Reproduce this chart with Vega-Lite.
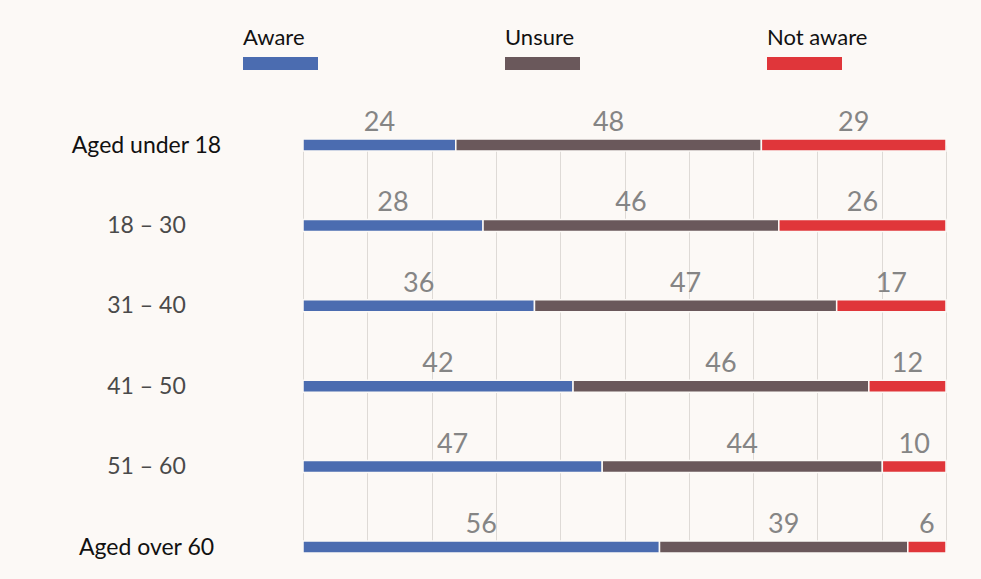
{
  "$schema": "https://vega.github.io/schema/vega-lite/v6.json",
  "background": "#fcf9f6",
  "padding": {"left": 71, "top": 26, "right": 40, "bottom": 29},
  "bounds": "flush",
  "spacing": 75,
  "config": {"view": {"stroke": null}, "font": "Lato"},
  "datasets": {
    "survey": [
      {"age": "Aged under 18", "resp": "Aware", "value": 24},
      {"age": "Aged under 18", "resp": "Unsure", "value": 48},
      {"age": "Aged under 18", "resp": "Not aware", "value": 29},
      {"age": "18 – 30", "resp": "Aware", "value": 28},
      {"age": "18 – 30", "resp": "Unsure", "value": 46},
      {"age": "18 – 30", "resp": "Not aware", "value": 26},
      {"age": "31 – 40", "resp": "Aware", "value": 36},
      {"age": "31 – 40", "resp": "Unsure", "value": 47},
      {"age": "31 – 40", "resp": "Not aware", "value": 17},
      {"age": "41 – 50", "resp": "Aware", "value": 42},
      {"age": "41 – 50", "resp": "Unsure", "value": 46},
      {"age": "41 – 50", "resp": "Not aware", "value": 12},
      {"age": "51 – 60", "resp": "Aware", "value": 47},
      {"age": "51 – 60", "resp": "Unsure", "value": 44},
      {"age": "51 – 60", "resp": "Not aware", "value": 10},
      {"age": "Aged over 60", "resp": "Aware", "value": 56},
      {"age": "Aged over 60", "resp": "Unsure", "value": 39},
      {"age": "Aged over 60", "resp": "Not aware", "value": 6}
    ],
    "legend": [
      {"resp": "Aware"},
      {"resp": "Unsure"},
      {"resp": "Not aware"}
    ]
  },
  "vconcat": [
    {
      "width": 643,
      "height": 13,
      "data": {"name": "legend"},
      "layer": [
        {
          "mark": {"type": "bar", "width": 75, "xOffset": 37.5},
          "encoding": {
            "x": {"field": "resp", "type": "nominal", "axis": null,
                  "scale": {"type": "point", "domain": ["Aware", "Unsure", "Not aware"], "range": [-60, 464], "padding": 0}},
            "color": {"field": "resp", "type": "nominal", "legend": null,
                      "scale": {"domain": ["Aware", "Unsure", "Not aware"], "range": ["#4b6cb0", "#6a585b", "#e0363a"]}}
          }
        },
        {
          "mark": {"type": "text", "align": "left", "baseline": "alphabetic", "dy": -19, "fontSize": 22, "color": "#111111"},
          "encoding": {
            "x": {"field": "resp", "type": "nominal", "axis": null,
                  "scale": {"type": "point", "domain": ["Aware", "Unsure", "Not aware"], "range": [-60, 464], "padding": 0}},
            "text": {"field": "resp"}
          }
        }
      ]
    },
    {
      "width": 643,
      "height": 402,
      "data": {"name": "survey"},
      "transform": [
        {"calculate": "indexof(['Aware','Unsure','Not aware'], datum.resp)", "as": "k"},
        {"stack": "value", "groupby": ["age"], "sort": [{"field": "k", "order": "ascending"}], "offset": "normalize", "as": ["x0", "x1"]},
        {"calculate": "(datum.x0 + datum.x1) / 2", "as": "mid"}
      ],
      "encoding": {
        "y": {"field": "age", "type": "nominal", "sort": null,
              "scale": {"type": "point", "padding": 0},
              "axis": {"title": null, "domain": false, "ticks": false, "grid": false,
                       "labelAlign": "center", "labelPadding": 157, "labelFontSize": 23,
                       "labelBaseline": "middle",
                       "labelColor": {"condition": {"test": "indexof(datum.label, 'Aged') === 0", "value": "#111111"}, "value": "#4a4a4a"}}}
      },
      "layer": [
        {
          "mark": {"type": "bar", "height": 12, "stroke": "#fcf9f6", "strokeWidth": 1.5},
          "encoding": {
            "x": {"field": "x0", "type": "quantitative",
                  "scale": {"domain": [0, 1], "nice": false},
                  "axis": {"title": null, "labels": false, "ticks": false, "domain": false,
                           "grid": true, "gridColor": "#dedad6", "gridWidth": 1,
                           "values": [0, 0.1, 0.2, 0.3, 0.4, 0.5, 0.6, 0.7, 0.8, 0.9, 1]}},
            "x2": {"field": "x1"},
            "color": {"field": "resp", "type": "nominal", "legend": null,
                      "scale": {"domain": ["Aware", "Unsure", "Not aware"], "range": ["#4b6cb0", "#6a585b", "#e0363a"]}}
          }
        },
        {
          "mark": {"type": "text", "align": "center", "baseline": "alphabetic", "dy": -14, "fontSize": 27, "fontWeight": 400, "color": "#858585"},
          "encoding": {
            "x": {"field": "mid", "type": "quantitative"},
            "text": {"field": "value", "type": "quantitative"}
          }
        }
      ]
    }
  ]
}
